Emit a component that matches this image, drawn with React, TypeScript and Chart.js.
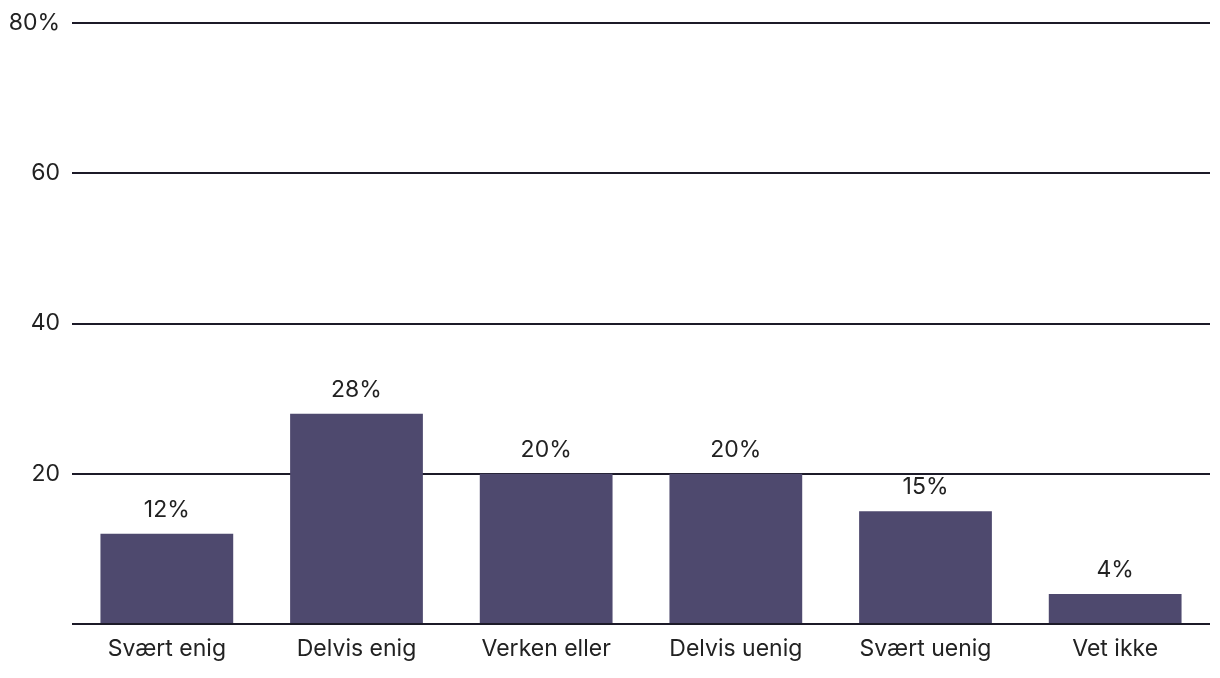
import React, { useEffect, useRef } from "react";
import { Chart, registerables } from "chart.js";

Chart.register(...registerables);

const categories = ["Svært enig", "Delvis enig", "Verken eller", "Delvis uenig", "Svært uenig", "Vet ikke"];
const values = [12, 28, 20, 20, 15, 4];
const yTicks = [0, 20, 40, 60, 80];

const FONT = "Inter, 'Open Sans', sans-serif";
const TEXT = "#222222";
const BAR = "#4e496e";
const SIZE = 23;

const valueLabels = {
  id: "valueLabels",
  afterDatasetsDraw(chart: any) {
    const ctx = chart.ctx;
    const meta = chart.getDatasetMeta(0);
    ctx.save();
    ctx.font = `${SIZE}px ${FONT}`;
    ctx.fillStyle = TEXT;
    ctx.textAlign = "center";
    ctx.textBaseline = "middle";
    meta.data.forEach((bar: any, i: number) => {
      ctx.fillText(values[i] + "%", bar.x, bar.y - 24);
    });
    ctx.restore();
  },
};

export default function App() {
  const ref = useRef<HTMLCanvasElement | null>(null);
  useEffect(() => {
    if (!ref.current) return;
    const chart = new Chart(ref.current, {
      type: "bar",
      data: {
        labels: categories,
        datasets: [
          {
            data: values,
            backgroundColor: BAR,
            barPercentage: 0.7,
            categoryPercentage: 1,
          },
        ],
      },
      options: {
        animation: false,
        responsive: true,
        maintainAspectRatio: false,
        layout: { padding: { top: 23, right: 10, left: 0, bottom: 0 } },
        plugins: { legend: { display: false }, tooltip: { enabled: false } },
        scales: {
          x: {
            grid: { display: false },
            border: { display: false },
            afterFit: (scale: any) => {
              scale.height = 54;
            },
            ticks: { color: TEXT, font: { size: SIZE, family: FONT }, padding: 3 },
          },
          y: {
            min: 0,
            max: 80,
            afterBuildTicks: (scale: any) => {
              scale.ticks = yTicks.map((v) => ({ value: v }));
            },
            afterFit: (scale: any) => {
              scale.width = 72;
              scale.paddingTop = 0;
              scale.paddingBottom = 0;
            },
            grid: { color: "#1c1a28", lineWidth: 2, drawTicks: false },
            border: { display: false },
            ticks: {
              color: TEXT,
              font: { size: SIZE, family: FONT },
              padding: 12,
              callback: (v: any) => (v === 0 ? "" : v === 80 ? v + "%" : String(v)),
            },
          },
        },
      },
      plugins: [valueLabels],
    });
    return () => chart.destroy();
  }, []);
  return (
    <div style={{ position: "fixed", left: 0, top: 0, width: 1220, height: 678, background: "#fff" }}>
      <canvas ref={ref} />
    </div>
  );
}
